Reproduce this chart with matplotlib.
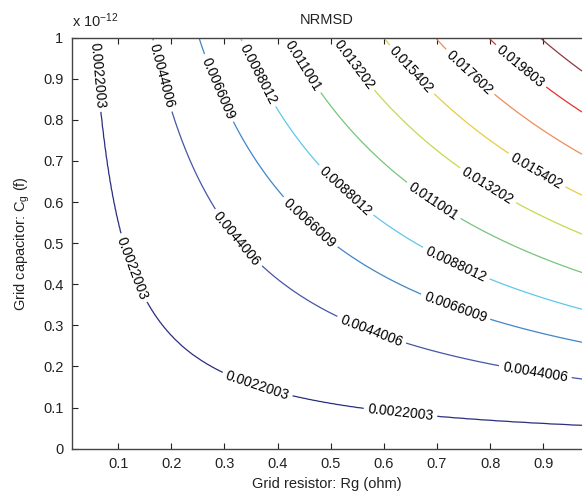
import numpy as np
import matplotlib
matplotlib.use("Agg")
import matplotlib.pyplot as plt
from matplotlib.ticker import FuncFormatter, FixedLocator

plt.rcParams['font.family'] = ['Liberation Sans', 'DejaVu Sans']
plt.rcParams['mathtext.fontset'] = 'custom'
plt.rcParams['mathtext.rm'] = 'Liberation Sans'
plt.rcParams['mathtext.it'] = 'Liberation Sans:italic'

# ---- data ----
# NRMSD depends on the time constant tau = Rg*Cg (in units of 1e-12 s);
# contour crossing points
tau_read = [0.0, 0.055, 0.165, 0.252, 0.330, 0.417, 0.508, 0.600, 0.697, 0.797, 0.894, 1.0]
nrmsd_read = [0.0, 0.0022003, 0.0044006, 0.0066009, 0.0088012, 0.011001,
              0.013202, 0.015402, 0.017602, 0.019803, 0.022003, 0.0245]
levels = [0.0022003, 0.0044006, 0.0066009, 0.0088012, 0.011001,
          0.013202, 0.015402, 0.017602, 0.019803, 0.022003]
level_colors = ['#2b2f80', '#4656a6', '#3f86c8', '#5ec8e8', '#78c47a',
                '#c4da4e', '#e8cc44', '#f08c58', '#e8302e', '#8c3840']
rg_range = [0.0124, 0.973]          # ohm
cg_range = [0.0, 1.0e-12]           # F
x_ticks = [0.1, 0.2, 0.3, 0.4, 0.5, 0.6, 0.7, 0.8, 0.9]
y_ticks = [0, 0.1, 0.2, 0.3, 0.4, 0.5, 0.6, 0.7, 0.8, 0.9, 1]   # x 1e-12
title = 'NRMSD'
xlabel = 'Grid resistor: Rg (ohm)'
ylabel = 'Grid capacitor: C$_\\mathrm{g}$ (f)'

rg = np.linspace(rg_range[0], rg_range[1], 400)
cg = np.linspace(cg_range[0], cg_range[1], 400)
R, C = np.meshgrid(rg, cg)
Z = np.interp(R * C / 1e-12, tau_read, nrmsd_read)

fig = plt.figure(figsize=(5.82, 4.93), dpi=100)
ax = fig.add_axes([0.1232, 0.0899, 0.8768, 0.8337])

cs = ax.contour(R, C, Z, levels=levels, colors=level_colors, linewidths=0.9)

ax.set_xlim(rg_range)
ax.set_ylim(cg_range)

label_pos = [(0.06, 0.909), (0.112, 0.43), (0.363, 0.162), (0.631, 0.084),
             (0.19, 0.909), (0.32, 0.507), (0.569, 0.26), (0.885, 0.186),
             (0.288, 0.877), (0.453, 0.539), (0.735, 0.345),
             (0.36, 0.909), (0.512, 0.605), (0.734, 0.445),
             (0.443, 0.928), (0.693, 0.602),
             (0.561, 0.952), (0.793, 0.634),
             (0.655, 0.925), (0.894, 0.69),
             (0.762, 0.916), (0.847, 0.914)]
manual = [(x, y * 1e-12) for x, y in label_pos]
fig.canvas.draw()
ax.clabel(cs, levels=levels[:9], manual=manual, fmt='%.5g', fontsize=10,
          colors='black', inline=True, inline_spacing=4)

ax.xaxis.set_major_locator(FixedLocator(x_ticks))
ax.yaxis.set_major_locator(FixedLocator([v * 1e-12 for v in y_ticks]))
ax.xaxis.set_major_formatter(FuncFormatter(lambda v, p: '%g' % round(v, 6)))
ax.yaxis.set_major_formatter(FuncFormatter(lambda v, p: '%g' % round(v / 1e-12, 6)))
ax.tick_params(direction='in', top=True, right=False, length=4, width=0.8,
               labelsize=10.5, colors='#222222', pad=6)
for s in ['left', 'bottom', 'top']:
    ax.spines[s].set_color('#444444')
    ax.spines[s].set_linewidth(1.0)
ax.spines['right'].set_visible(False)

ax.text(0.0, 1.018, 'x 10$^{-12}$', transform=ax.transAxes, ha='left', va='bottom',
        fontsize=10.5, color='#222222')
ax.set_title(title, fontsize=10.5, pad=10, color='#222222')
ax.set_xlabel(xlabel, fontsize=10.5, labelpad=4, color='#222222')
ax.set_ylabel(ylabel, fontsize=10.5, labelpad=8, color='#222222')

fig.savefig('out.png', dpi=100)
